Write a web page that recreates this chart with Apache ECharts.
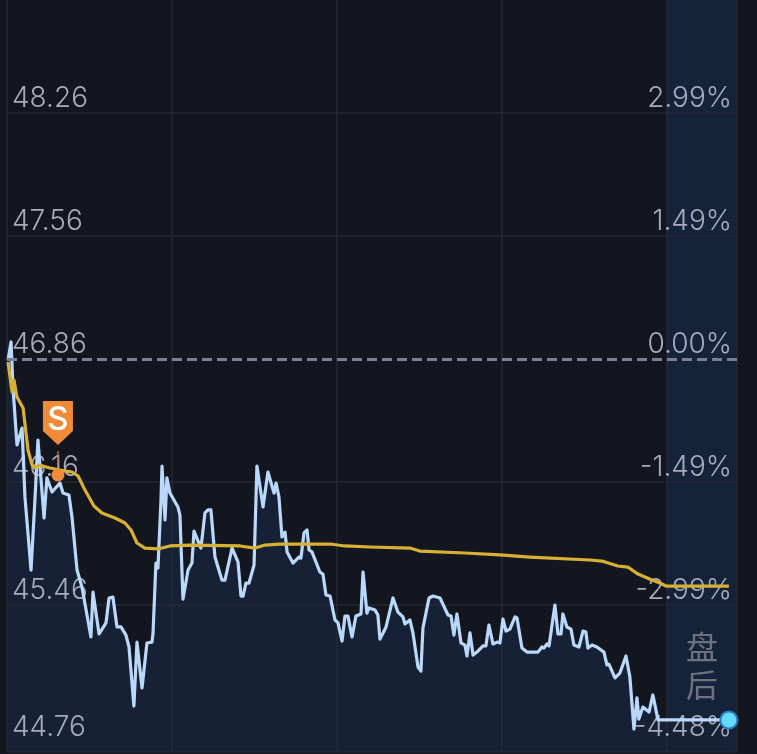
<!DOCTYPE html>
<html>
<head>
<meta charset="utf-8">
<style>html,body{margin:0;padding:0;background:#13161f}#c{width:757px;height:754px}</style>
<script src="https://cdn.jsdelivr.net/npm/echarts@6/dist/echarts.min.js"></script>
</head>
<body>
<div id="c"></div>
<script>
var priceMinutes=[0.6,2.4,3.5,5.9,8.9,10.6,14.2,16.5,18.3,21.9,23.6,26.6,31.3,33.1,36.6,38.4,41.4,44.3,49.6,50.8,54.4,55.5,58.5,60.3,62.6,65.0,67.4,70.3,72.1,75.0,76.8,79.8,82.7,85.7,86.3,88.0,89.2,91.0,91.6,93.4,94.5,96.3,101.0,102.2,104.0,107.0,109.3,110.5,114.6,117.0,118.8,120.5,122.9,127.0,128.8,133.0,136.5,138.3,139.5,141.2,143.0,146.0,147.7,151.3,154.2,157.8,159.0,160.7,162.5,164.3,165.5,169.0,172.5,173.7,175.5,177.3,178.5,180.2,184.9,186.7,188.5,190.9,193.8,195.6,198.0,199.7,201.5,203.9,204.5,206.2,209.2,210.4,212.7,213.9,217.5,219.2,220.4,224.0,228.1,231.0,234.0,235.2,238.1,239.9,242.9,244.6,245.8,249.4,251.7,255.9,260.6,262.4,264.1,265.9,268.3,270.6,271.8,273.6,275.4,277.7,281.3,283.0,284.8,287.2,289.5,291.3,293.1,294.9,297.2,300.2,301.4,304.3,307.3,313.8,316.1,317.3,319.1,320.3,323.8,325.6,327.4,328.5,330.9,333.3,335.0,338.0,340.4,342.1,343.3,345.7,348.6,352.8,354.5,355.7,359.3,362.2,365.8,368.1,370.5,372.3,373.4,375.8,379.4,381.7,384.7,426.6];
var prices=[46.854,46.957,46.701,46.371,46.467,46.075,45.659,46.058,46.399,45.955,46.183,46.103,46.154,46.097,46.086,45.961,45.659,45.562,45.278,45.534,45.295,45.295,45.358,45.500,45.505,45.335,45.335,45.289,45.221,44.885,45.249,44.988,45.244,45.249,45.301,45.699,45.670,46.058,46.251,45.944,46.183,46.097,46.018,45.972,45.494,45.659,45.699,45.881,45.784,45.984,46.001,46.001,45.733,45.602,45.602,45.784,45.705,45.511,45.511,45.585,45.585,45.688,46.251,46.018,46.217,46.097,46.154,46.075,45.847,45.875,45.762,45.699,45.733,45.727,45.870,45.887,45.773,45.762,45.648,45.636,45.517,45.511,45.375,45.358,45.255,45.397,45.397,45.278,45.278,45.397,45.409,45.648,45.414,45.443,45.431,45.403,45.266,45.335,45.500,45.420,45.392,45.352,45.375,45.301,45.107,45.084,45.329,45.500,45.511,45.500,45.403,45.397,45.289,45.409,45.244,45.232,45.170,45.301,45.175,45.192,45.227,45.227,45.346,45.238,45.249,45.244,45.380,45.312,45.323,45.392,45.386,45.215,45.192,45.192,45.221,45.215,45.238,45.227,45.460,45.295,45.295,45.409,45.335,45.323,45.232,45.221,45.312,45.306,45.215,45.232,45.221,45.192,45.119,45.124,45.045,45.073,45.170,45.050,44.754,44.931,44.811,44.879,44.851,44.948,44.806,44.806];
var avgMinutes=[0.6,3.0,4.1,5.9,9.5,12.4,14.8,16.5,18.9,25.4,31.3,38.4,42.0,46.1,51.4,56.1,63.8,69.7,73.3,76.8,81.5,89.2,96.3,108.1,137.7,146.5,152.5,161.3,190.9,199.7,214.5,238.1,244.0,270.6,291.3,309.0,344.5,351.6,361.0,366.9,372.9,381.1,385.9,389.4,426.6];
var avgPrices=[46.843,46.672,46.740,46.644,46.581,46.342,46.257,46.240,46.257,46.240,46.228,46.217,46.194,46.114,46.023,45.984,45.955,45.927,45.887,45.813,45.784,45.779,45.796,45.801,45.796,45.784,45.801,45.807,45.807,45.796,45.790,45.784,45.767,45.756,45.745,45.733,45.716,45.710,45.682,45.676,45.636,45.602,45.585,45.568,45.568];
var priceTicks=[44.76,45.46,46.16,46.86,47.56,48.26];
var percentTicks=['-4.48%','-2.99%','-1.49%','0.00%','1.49%','2.99%'];
var gridPrices=[45.46,46.16,47.56,48.26];
var prevClose=46.86;
var sellPoint=[30.1,46.2];
var postMarketStart=390;
var axisMax=431.4, axisMin=0, priceMin=44.6235, priceMax=48.903;

function zip(a,b){return a.map(function(v,i){return [v,b[i]];});}
var chart=echarts.init(document.getElementById('c'),null,{renderer:'canvas'});
var labelFont={fontFamily:'Inter',fontSize:28,fontWeight:300,color:'#a6abba'};
function richLabels(){
  return {n:Object.assign({},labelFont,{padding:[0,0,28,0]}),l:Object.assign({},labelFont,{padding:[0,0,0,0]})};
}
chart.setOption({
  animation:false,
  backgroundColor:'#13161f',
  grid:{left:7,right:20,top:0,bottom:2,containLabel:false},
  xAxis:{type:'value',min:axisMin,max:axisMax,interval:97.5,z:2,
    axisLine:{show:true,onZero:false,lineStyle:{color:'#242935',width:1.5}},
    axisTick:{show:false},axisLabel:{show:false},
    splitLine:{show:true,lineStyle:{color:'#242935',width:1.5}}},
  yAxis:[{type:'value',min:priceMin,max:priceMax,position:'left',z:2,
      axisLine:{show:false},axisTick:{show:false,customValues:gridPrices},
      splitLine:{show:true,lineStyle:{color:'#242935',width:1.5}},
      axisLabel:{show:true,inside:true,margin:5,align:'left',verticalAlign:'middle',customValues:priceTicks,
        formatter:function(v){var t=v.toFixed(2);return (t==='44.76'?'{l|':'{n|')+t+'}';},
        rich:richLabels()}},
    {type:'value',min:priceMin,max:priceMax,position:'right',z:2,
      axisLine:{show:false},axisTick:{show:false},splitLine:{show:false},
      axisLabel:{show:true,inside:true,margin:5,align:'right',verticalAlign:'middle',customValues:priceTicks,
        formatter:function(v){var i=priceTicks.indexOf(+v.toFixed(2));return (i===0?'{l|':'{n|')+percentTicks[i]+'}';},
        rich:richLabels()}}],
  series:[
    {name:'band',type:'line',data:[],silent:true,z:1,
      markArea:{silent:true,itemStyle:{color:'#15233a'},
        label:{show:true,position:'inside',formatter:'盘\n后',fontFamily:'Noto Sans CJK SC',fontSize:32,lineHeight:38,color:'#6c7280',offset:[0,290]},
        data:[[{xAxis:postMarketStart},{xAxis:axisMax}]]}},
    {name:'priceArea',type:'line',data:zip(priceMinutes,prices),showSymbol:false,symbol:'none',z:1,
      lineStyle:{opacity:0},
      areaStyle:{color:'#172135',opacity:1,origin:'start'}},
    {name:'price',type:'line',data:zip(priceMinutes,prices),showSymbol:false,symbol:'none',smooth:false,z:3,
      lineStyle:{color:'#b9d8fa',width:3.2,join:'round'},
      markLine:{silent:true,symbol:'none',z:4,label:{show:false},
        lineStyle:{color:'#7b7f93',type:[10,5],width:3},data:[{yAxis:prevClose}]}},
    {name:'avg',type:'line',data:zip(avgMinutes,avgPrices),showSymbol:false,symbol:'none',z:4,
      lineStyle:{color:'#d8b034',width:3.2,join:'round'}},
    {name:'sell',type:'scatter',data:[sellPoint],symbolSize:13,z:6,
      itemStyle:{color:'#f08b37',opacity:1},
      markPoint:{silent:true,z:7,data:[
        {coord:sellPoint,symbol:'rect',symbolSize:[1.5,14],symbolOffset:[0,-17],itemStyle:{color:'#b8703c'},label:{show:false}},
        {coord:sellPoint,symbol:'path://M0 0H30V30L15 44L0 30Z',symbolSize:[30,44],symbolOffset:[0,-52],itemStyle:{color:'#f08b37'},
         label:{show:true,formatter:'S',position:'inside',offset:[0,-3],color:'#fff',fontFamily:'Inter',fontWeight:500,fontSize:33}}
      ]}},
    {name:'last',type:'scatter',data:[[priceMinutes[priceMinutes.length-1],prices[prices.length-1]]],symbolSize:17,z:6,
      itemStyle:{color:'#5fdcff',borderColor:'#2f78bb',borderWidth:2,opacity:1}}
  ]
});
</script>
</body>
</html>
